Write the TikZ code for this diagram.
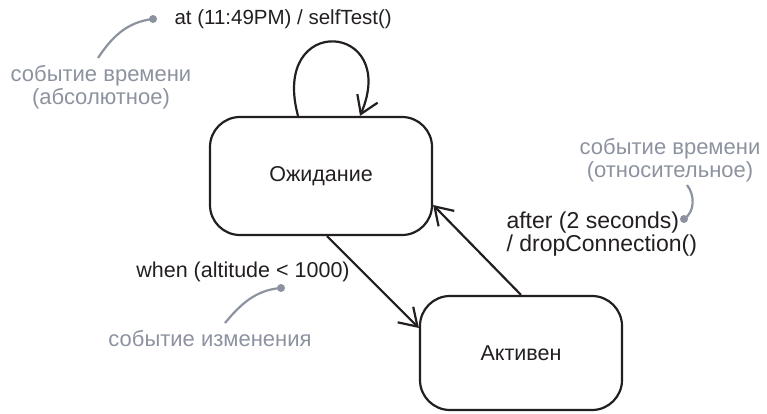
\documentclass[tikz,border=0pt]{standalone}
\usepackage{fontspec}
\setmainfont{Liberation Sans}
\usetikzlibrary{arrows.meta}
\definecolor{catatan}{RGB}{140,146,160}
\definecolor{tinta}{RGB}{35,31,32}

\begin{document}
\begin{tikzpicture}[x=1pt,y=-1pt,
    keadaan/.style={draw=tinta,line width=2.2pt,rounded corners=30pt,
      font=\fontsize{21.5}{24}\selectfont,text=tinta},
    panah/.style={draw=tinta,line width=2.2pt,
      -{Straight Barb[length=17pt,width=22pt]}},
    peristiwa/.style={font=\fontsize{21.5}{23.5}\selectfont,text=tinta},
    catat/.style={font=\fontsize{22}{23.5}\selectfont,text=catatan,align=center},
    garis/.style={draw=catatan,line width=2.2pt},
    titik/.style={circle,fill=catatan,inner sep=0pt,minimum size=8pt}]

      \useasboundingbox (0,0) rectangle (767,414);

      % Keadaan
      \node[keadaan,minimum width=222pt,minimum height=118pt] (tunggu) at (321,176) {Ожидание};
      \node[keadaan,minimum width=202pt,minimum height=114pt] (aktif) at (521,353) {Активен};

      % Transisi
      \draw[panah] ([xshift=-23pt]tunggu.north) .. controls (270,12) and (400,22) .. ([xshift=39pt]tunggu.north);
      \draw[panah] ([xshift=6pt]tunggu.south) -- ([yshift=25pt]aktif.west);
      \draw[panah] (aktif.north) -- ([yshift=-29pt]tunggu.east);

      % Label peristiwa
      \node[peristiwa,anchor=west,font=\fontsize{20.5}{23.5}\selectfont] (ev1) at (171,19) {at (11:49PM) / selfTest()};
      \node[peristiwa,anchor=west,align=left,font=\fontsize{23}{23.5}\selectfont] (ev2) at (503,234) {after (2 seconds)\\/ dropConnection()};
      \node[peristiwa] (ev3) at (243,272) {when (altitude < 1000)};

      % Catatan
      \node[catat] (cat1) at (101,87) {событие времени\\(абсолютное)};
      \node[catat] (cat2) at (670,160) {событие времени\\(относительное)};
      \node[catat] (cat3) at (210,339) {событие изменения};

      \node[titik] (t1) at (153,19) {};
      \node[titik] (t2) at (684,219) {};
      \node[titik] (t3) at (281,288) {};

      \coordinate (u1) at (98,58);
      \coordinate (u2) at (687,185);
      \coordinate (u3) at (225,323);

      \draw[garis] (t1.center) .. controls (125,22) and (110,40) .. (u1);
      \draw[garis] (t2.center) .. controls (695,212) and (695,195) .. (u2);
      \draw[garis] (t3.center) .. controls (255,290) and (240,305) .. (u3);

    \end{tikzpicture}
\end{document}
